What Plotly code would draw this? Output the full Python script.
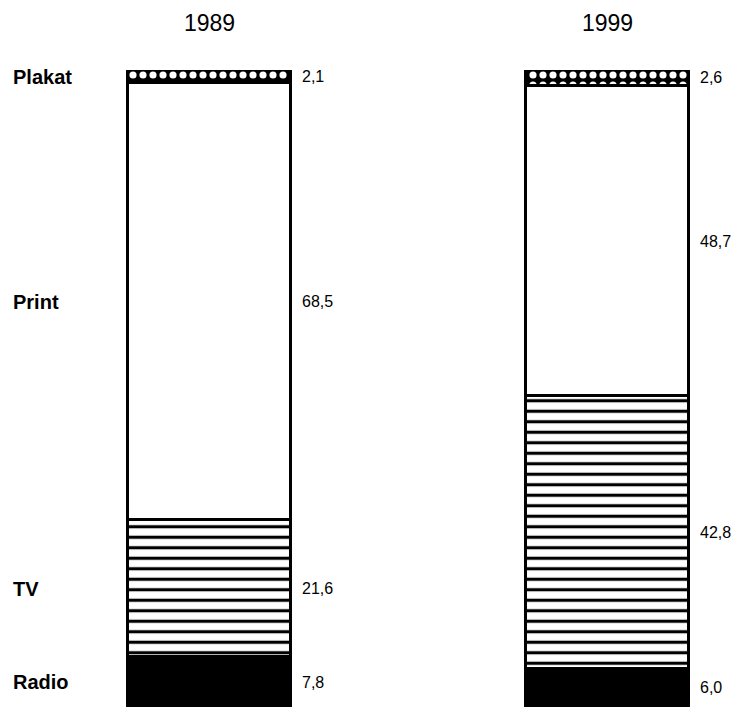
import plotly.graph_objects as go

years = ["1989", "1999"]
segments = ["Radio", "TV", "Print", "Plakat"]
values = {
    "Radio": [7.8, 6.0],
    "TV": [21.6, 42.8],
    "Print": [68.5, 48.7],
    "Plakat": [2.1, 2.6],
}
value_labels = {
    "Radio": ["7,8", "6,0"],
    "TV": ["21,6", "42,8"],
    "Print": ["68,5", "48,7"],
    "Plakat": ["2,1", "2,6"],
}

styles = {
    "Radio": dict(color="black", pattern=dict(shape="")),
    "TV": dict(color="white", pattern=dict(shape="-", fgcolor="black", bgcolor="white",
                                           size=10.5, solidity=0.3, fillmode="replace")),
    "Print": dict(color="white", pattern=dict(shape="")),
    "Plakat": dict(color="black", pattern=dict(shape=".", fgcolor="white", bgcolor="black",
                                               size=10, solidity=0.4, fillmode="replace")),
}

xpos = [0, 1]
bar_w = 0.41
FONT = "Liberation Sans, Arial"

fig = go.Figure()
for seg in segments:
    st = styles[seg]
    fig.add_trace(go.Bar(
        x=xpos, y=values[seg], width=bar_w, name=seg,
        marker=dict(color=st["color"], pattern=st["pattern"],
                    line=dict(color="black", width=3)),
        showlegend=False, hoverinfo="skip",
    ))

annotations = []
for i, yr in enumerate(years):
    base = 0.0
    for seg in segments:
        v = values[seg][i]
        center = base + v / 2
        base += v
        annotations.append(dict(
            x=xpos[i] + bar_w / 2, y=center, xref="x", yref="y",
            text=value_labels[seg][i], showarrow=False, xanchor="left", xshift=9,
            font=dict(family=FONT, size=16, color="black"),
        ))
        if i == 0:
            annotations.append(dict(
                x=0.004, y=center, xref="paper", yref="y",
                text="<b>" + seg + "</b>", showarrow=False, xanchor="left",
                font=dict(family=FONT, size=20, color="black"),
            ))
    annotations.append(dict(
        x=xpos[i], y=1.0, xref="x", yref="paper", yanchor="bottom", yshift=32,
        text=yr, showarrow=False,
        font=dict(family=FONT, size=23, color="black"),
    ))

fig.update_layout(
    barmode="stack",
    width=748, height=709,
    margin=dict(l=0, r=0, t=62, b=10),
    paper_bgcolor="white", plot_bgcolor="white",
    xaxis=dict(range=[-0.506, 1.373], visible=False, fixedrange=True),
    yaxis=dict(range=[0, 100], visible=False, fixedrange=True),
    annotations=annotations,
    bargap=0,
)

fig.write_html("out.html")
